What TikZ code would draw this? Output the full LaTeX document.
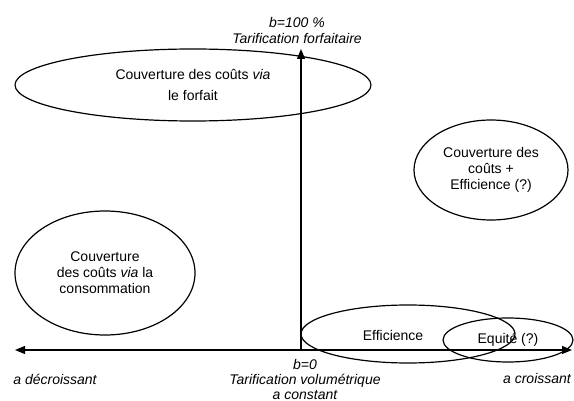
\documentclass[tikz,border=0pt]{standalone}
\usepackage{fontspec}
\setmainfont{Liberation Sans}
\usetikzlibrary{shapes.geometric}
\usetikzlibrary{arrows.meta}
\usetikzlibrary{positioning}

\begin{document}
\begin{tikzpicture}[x=1pt,y=-1pt,
    zone/.style={ellipse,draw,line width=1.2pt,inner sep=0pt,align=center,
      font=\fontsize{14}{16}\selectfont},
    axlbl/.style={align=center,inner sep=0pt,
      font=\fontsize{14}{16}\selectfont\itshape},
    axis/.style={line width=1.2pt,>={Triangle[length=10pt,width=8pt]}}]
    \useasboundingbox (0,0) rectangle (574,401);

    \coordinate (origin) at (301,350);
    \coordinate (xmin) at (15,350);
    \coordinate (xmax) at (572,350);
    \coordinate (ymax) at (301,49);

    \node[zone,minimum width=356pt,minimum height=72pt] (forfait) at (193,85)
      {Couverture des coûts \textit{via}\\[5pt]le forfait};
    \node[zone,minimum width=180pt,minimum height=124pt] (conso) at (105,273)
      {Couverture\\des coûts \textit{via} la\\consommation};
    \node[zone,minimum width=154pt,minimum height=100pt] (mixte) at (491,170)
      {Couverture des\\coûts +\\Efficience (?)};
    \node[zone,minimum width=214pt,minimum height=58pt] (effic) at (408,334) {};
    \node[font=\fontsize{14}{16}\selectfont] (efftxt) at (393,335) {Efficience};
    \node[zone,minimum width=130pt,minimum height=44pt] (equite) at (508,340)
      {Equité (?)};

    \draw[axis,<->] (xmin) -- (xmax);
    \draw[axis,->] (origin) -- (ymax);

    \node[axlbl] (toplbl) at (297,30) {b=100 \%\\Tarification forfaitaire};
    \node[axlbl,font=\fontsize{14}{15}\selectfont\itshape] (botlbl) at (305,379)
      {b=0\\Tarification volumétrique\\a constant};
    \node[axlbl] (leftlbl) at (55,379) {a décroissant};
    \node[axlbl] (rightlbl) at (537,378) {a croissant};
  \end{tikzpicture}
\end{document}
